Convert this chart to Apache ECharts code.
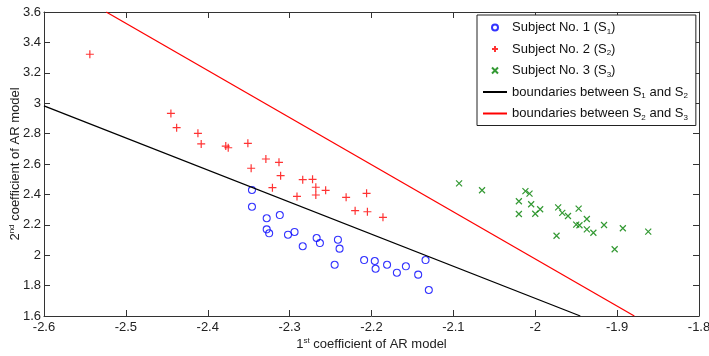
<!DOCTYPE html>
<html><head><meta charset="utf-8">
<script src="https://cdn.jsdelivr.net/npm/echarts@6/dist/echarts.min.js"></script>
<style>html,body{margin:0;padding:0;background:#fff}#c{width:709px;height:356px}</style>
</head><body><div id="c"></div>
<script>
const xTicks = [-2.6, -2.5, -2.4, -2.3, -2.2, -2.1, -2.0, -1.9, -1.8];
const yTicks = [1.6, 1.8, 2.0, 2.2, 2.4, 2.6, 2.8, 3.0, 3.2, 3.4, 3.6];

const subject1 = [
  [-2.346, 2.429], [-2.346, 2.319], [-2.328, 2.243], [-2.312, 2.264], [-2.328, 2.170],
  [-2.325, 2.144], [-2.302, 2.135], [-2.294, 2.153], [-2.284, 2.059], [-2.267, 2.113],
  [-2.263, 2.080], [-2.241, 2.102], [-2.239, 2.043], [-2.245, 1.937], [-2.209, 1.968],
  [-2.196, 1.962], [-2.195, 1.911], [-2.181, 1.937], [-2.169, 1.885], [-2.158, 1.927],
  [-2.143, 1.872], [-2.134, 1.968], [-2.130, 1.771]
];
const subject2 = [
  [-2.544, 3.322], [-2.445, 2.933], [-2.438, 2.839], [-2.412, 2.802], [-2.408, 2.732],
  [-2.378, 2.718], [-2.375, 2.707], [-2.351, 2.736], [-2.347, 2.572], [-2.329, 2.633],
  [-2.313, 2.611], [-2.311, 2.523], [-2.321, 2.444], [-2.284, 2.497], [-2.272, 2.499],
  [-2.268, 2.447], [-2.256, 2.427], [-2.268, 2.396], [-2.291, 2.387], [-2.231, 2.381],
  [-2.206, 2.407], [-2.220, 2.293], [-2.205, 2.286], [-2.186, 2.249]
];
const subject3 = [
  [-2.093, 2.473], [-2.065, 2.427], [-2.012, 2.422], [-2.007, 2.405], [-2.020, 2.355],
  [-2.005, 2.335], [-2.020, 2.271], [-2.000, 2.273], [-1.994, 2.302], [-1.972, 2.315],
  [-1.967, 2.278], [-1.960, 2.258], [-1.947, 2.306], [-1.937, 2.238], [-1.950, 2.201],
  [-1.946, 2.197], [-1.937, 2.170], [-1.929, 2.148], [-1.916, 2.199], [-1.893, 2.177],
  [-1.974, 2.128], [-1.903, 2.039], [-1.862, 2.155]
];
const boundary12 = [[-2.6, 2.982], [-1.945, 1.6]];
const boundary23 = [[-2.524, 3.6], [-1.879, 1.6]];

const seriesNames = ['Subject No. 1 (S1)', 'Subject No. 2 (S2)', 'Subject No. 3 (S3)',
  'boundaries between S1 and S2', 'boundaries between S2 and S3'];
const legendRich = {
  'Subject No. 1 (S1)': 'Subject No. 1 (S{sub|1})',
  'Subject No. 2 (S2)': 'Subject No. 2 (S{sub|2})',
  'Subject No. 3 (S3)': 'Subject No. 3 (S{sub|3})',
  'boundaries between S1 and S2': 'boundaries between S{sub|1} and S{sub|2}',
  'boundaries between S2 and S3': 'boundaries between S{sub|2} and S{sub|3}'
};

const FONT = 'Liberation Sans';
const AX = '#333';
const chart = echarts.init(document.getElementById('c'), null, {renderer: 'canvas'});

const xBase = {type: 'value', min: xTicks[0], max: xTicks[xTicks.length - 1], interval: 0.1,
  splitLine: {show: false}, axisLine: {show: true, onZero: false, lineStyle: {color: AX, width: 1}},
  axisTick: {show: true, inside: true, length: 6, lineStyle: {color: AX}}};
const yBase = {type: 'value', min: yTicks[0], max: yTicks[yTicks.length - 1], interval: 0.2,
  splitLine: {show: false}, axisLine: {show: true, onZero: false, lineStyle: {color: AX, width: 1}},
  axisTick: {show: true, inside: true, length: 6, lineStyle: {color: AX}}};

const labelStyle = {color: '#222', fontSize: 13, fontFamily: FONT};

chart.setOption({
  animation: false,
  backgroundColor: '#fff',
  grid: {left: 44, right: 10, top: 12, bottom: 40, containLabel: false, outerBoundsMode: 'none'},
  xAxis: [
    Object.assign({}, xBase, {position: 'bottom',
      axisLabel: Object.assign({margin: 5, formatter: v => String(Math.round(v * 10) / 10)}, labelStyle),
      name: '1{sup|st} coefficient of AR model', nameLocation: 'middle', nameGap: 21, nameMoveOverlap: false,
      nameTextStyle: {color: '#222', fontSize: 13, fontFamily: FONT,
        rich: {sup: {fontSize: 8, fontFamily: FONT, color: '#222', padding: [0, 0, 7, 0]}}}}),
    Object.assign({}, xBase, {position: 'top', axisLabel: {show: false}})
  ],
  yAxis: [
    Object.assign({}, yBase, {position: 'left',
      axisLabel: Object.assign({margin: 3, formatter: v => String(Math.round(v * 10) / 10)}, labelStyle),
      name: '2{sup|nd} coefficient of AR model', nameLocation: 'middle', nameGap: 21, nameRotate: 90,
      nameMoveOverlap: false,
      nameTextStyle: {color: '#222', fontSize: 13, fontFamily: FONT,
        rich: {sup: {fontSize: 8, fontFamily: FONT, color: '#222', padding: [0, 0, 7, 0]}}}}),
    Object.assign({}, yBase, {position: 'right', axisLabel: {show: false}})
  ],
  legend: {
    data: [
      {name: seriesNames[0]}, {name: seriesNames[1]}, {name: seriesNames[2]},
      {name: seriesNames[3], itemStyle: {opacity: 0, borderWidth: 0}},
      {name: seriesNames[4], itemStyle: {opacity: 0, borderWidth: 0}}
    ],
    orient: 'vertical', left: 477, top: 15, align: 'left',
    padding: [6, 8, 4, 5], itemGap: 7, itemWidth: 24, itemHeight: 6,
    backgroundColor: '#fff', borderColor: '#222', borderWidth: 1, borderRadius: 0,
    selectedMode: false,
    formatter: name => legendRich[name],
    textStyle: {color: '#111', fontSize: 13, fontFamily: FONT,
      rich: {sub: {fontSize: 8, fontFamily: FONT, color: '#111', padding: [8, 0, 0, 0]}}}
  },
  series: [
    {name: seriesNames[0], type: 'scatter', data: subject1, symbol: 'circle', symbolSize: 7,
      itemStyle: {color: 'rgba(0,0,0,0)', borderColor: '#0000ff', borderWidth: 1.1}, emphasis: {disabled: true}},
    {name: seriesNames[1], type: 'scatter', data: subject2, symbol: 'path://M0,5L10,5M5,0L5,10', symbolSize: 8,
      itemStyle: {color: 'rgba(0,0,0,0)', borderColor: '#ff0000', borderWidth: 1.2}, emphasis: {disabled: true}},
    {name: seriesNames[2], type: 'scatter', data: subject3, symbol: 'path://M0,0L10,10M10,0L0,10', symbolSize: 6,
      itemStyle: {color: 'rgba(0,0,0,0)', borderColor: '#008000', borderWidth: 1.2}, emphasis: {disabled: true}},
    {name: seriesNames[3], type: 'line', data: boundary12, symbol: 'none', showSymbol: false,
      lineStyle: {color: '#000', width: 1.3}, itemStyle: {color: '#000'}, emphasis: {disabled: true}},
    {name: seriesNames[4], type: 'line', data: boundary23, symbol: 'none', showSymbol: false,
      lineStyle: {color: '#ff0000', width: 1.3}, itemStyle: {color: '#ff0000'}, emphasis: {disabled: true}}
  ]
});
</script></body></html>
